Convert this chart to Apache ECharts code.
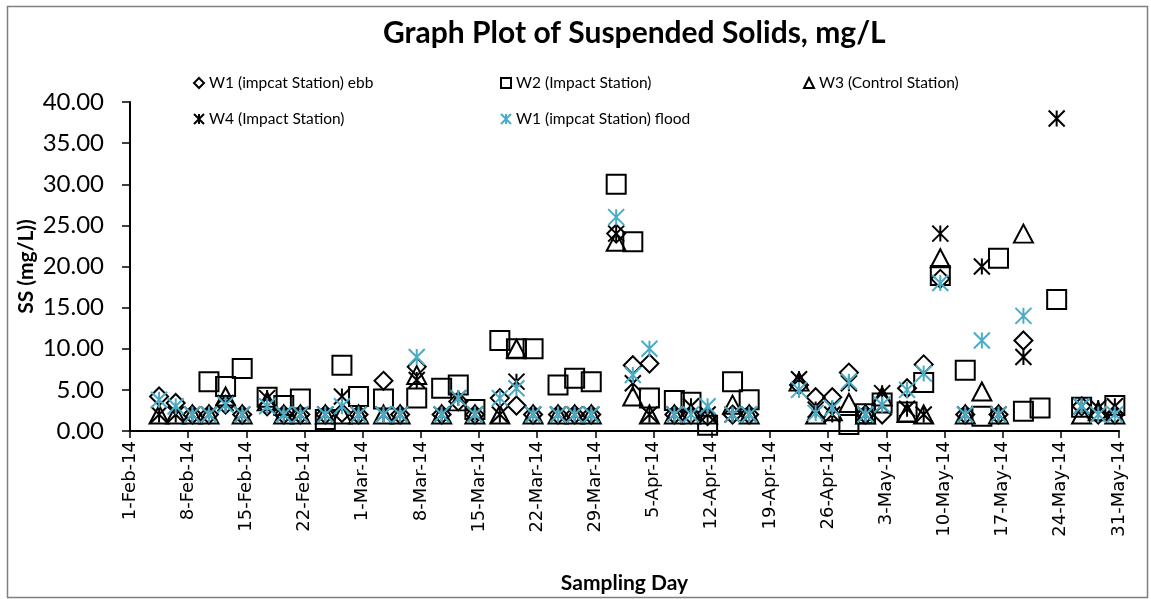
<!DOCTYPE html>
<html>
<head>
<meta charset="utf-8">
<script src="https://cdn.jsdelivr.net/npm/echarts@6/dist/echarts.min.js"></script>
<style>
  html, body { margin: 0; padding: 0; background: #fff; }
  #chart { width: 1151px; height: 599px; }
</style>
</head>
<body>
<div id="chart"></div>
<script>
/* Suspended solids scatter, Feb-May 2014. Values;
   points sitting on the 2.0 floor are mostly hidden under each other. */
const sampleDates = [
  "2014-02-04", "2014-02-06", "2014-02-08", "2014-02-10", "2014-02-12", "2014-02-14",
  "2014-02-17", "2014-02-19", "2014-02-21", "2014-02-24", "2014-02-26", "2014-02-28",
  "2014-03-03", "2014-03-05", "2014-03-07", "2014-03-10", "2014-03-12", "2014-03-14",
  "2014-03-17", "2014-03-19", "2014-03-21", "2014-03-24", "2014-03-26", "2014-03-28",
  "2014-03-31", "2014-04-02", "2014-04-04", "2014-04-07", "2014-04-09", "2014-04-11",
  "2014-04-14", "2014-04-16", "2014-04-22", "2014-04-24", "2014-04-26", "2014-04-28",
  "2014-04-30", "2014-05-02", "2014-05-05", "2014-05-07", "2014-05-09", "2014-05-12",
  "2014-05-14", "2014-05-16", "2014-05-19", "2014-05-21", "2014-05-23", "2014-05-26",
  "2014-05-28", "2014-05-30",
];
const w1Ebb = [
  4.2, 3.4, 2.0, 2.0, 3.2, 2.0, 3.0, 2.0, 2.0, 2.0, 2.2, 2.0,
  6.1, 2.0, 7.8, 2.0, 3.6, 2.0, 4.0, 3.1, 2.0, 2.0, 2.0, 2.0,
  24.0, 8.0, 8.2, 2.0, 2.0, 1.8, 2.0, 2.0, 5.6, 4.1, 4.1, 7.1,
  2.0, 2.0, 5.2, 8.1, 18.5, 2.0, null, 2.0, 11.0, null, null, 3.0,
  2.0, 2.0,
];
const w2 = [
  null, null, null, 6.0, 5.4, 7.6, 4.1, 3.1, 3.9, 1.4, 8.0, 4.2,
  3.9, null, 4.0, 5.2, 5.6, 2.6, 11.0, 10.0, 10.0, 5.6, 6.4, 6.0,
  30.0, 23.0, 4.0, 3.7, 3.5, 0.7, 6.0, 3.8, null, null, null, 0.8,
  2.1, 3.4, 2.3, 5.9, 18.9, 7.4, 1.8, 21.0, 2.4, 2.8, 16.0, 2.9,
  null, 3.1,
];
const w3 = [
  2.0, 2.0, 2.0, 2.0, 4.2, 2.0, 3.6, 2.0, 2.0, 2.0, 2.0, 2.0,
  2.0, 2.0, 6.8, 2.0, 3.6, 2.0, 2.0, 10.0, 2.0, 2.0, 2.0, 2.0,
  23.0, 4.2, 2.0, 2.0, 2.0, 2.0, 3.2, 2.0, 6.0, 2.0, 2.4, 3.4,
  2.0, 4.2, 2.2, 2.0, 21.0, 2.0, 4.8, 2.0, 24.0, null, null, 2.0,
  2.4, 2.0,
];
const w4 = [
  2.0, 2.0, 2.0, 2.0, 3.4, 2.0, 4.0, 2.0, 2.0, 2.0, 4.2, 2.0,
  2.0, 2.0, 6.2, 2.0, 4.0, 2.0, 2.0, 6.0, 2.0, 2.0, 2.0, 2.0,
  24.0, 5.8, 2.0, 2.0, 3.0, 2.0, 2.0, 2.0, 6.3, 2.6, 2.0, 5.8,
  2.0, 4.6, 2.7, 2.0, 24.0, 2.0, 20.0, 2.0, 9.0, null, 38.0, 3.0,
  2.8, 3.0,
];
const w1Flood = [
  3.8, 3.0, 2.0, 2.0, 3.2, 2.0, 3.0, 2.0, 2.0, 2.0, 3.0, 2.0,
  2.0, 2.0, 9.0, 2.0, 4.0, 2.0, 4.0, 5.2, 2.0, 2.0, 2.0, 2.0,
  26.0, 6.8, 10.0, 2.0, 2.0, 3.0, 2.0, 2.0, 5.0, 2.2, 2.8, 6.0,
  2.0, 3.2, 5.0, 7.0, 18.0, 2.0, 11.0, 2.0, 14.0, null, null, 3.0,
  2.0, 2.0,
];
const seriesNames = [
  "W1 (impcat Station) ebb", "W2 (Impact Station)", "W3 (Control Station)",
  "W4 (Impact Station)", "W1 (impcat Station) flood",
];
const yTicks = [0, 5, 10, 15, 20, 25, 30, 35, 40];

const MONTHS = ["Jan", "Feb", "Mar", "Apr", "May", "Jun"];
const START = Date.UTC(2014, 1, 1);
const dayOf = (s) => (Date.UTC(+s.slice(0, 4), +s.slice(5, 7) - 1, +s.slice(8, 10)) - START) / 86400000;
const xDays = sampleDates.map(dayOf);
// excel date axis puts each day's points half-way between ticks
const pts = (vals) => vals.map((v, i) => (v == null ? null : [xDays[i] + 0.5, v])).filter(Boolean);
const dayLabel = (d) => {
  const t = new Date(START + d * 86400000);
  return t.getUTCDate() + "-" + MONTHS[t.getUTCMonth()] + "-14";
};

const STAR = "path://M0,0L10,10M10,0L0,10M5,0L5,10";
const CYAN = "#4bacc6";
const FONT = "Lato";

const hollow = (c, w) => ({ color: "transparent", borderColor: c, borderWidth: w, opacity: 1 });
const series = [
  { name: seriesNames[0], data: pts(w1Ebb), symbol: "diamond", symbolSize: 18, itemStyle: hollow("#000", 2) },
  { name: seriesNames[1], data: pts(w2), symbol: "rect", symbolSize: 19, itemStyle: hollow("#000", 2) },
  { name: seriesNames[2], data: pts(w3), symbol: "triangle", symbolSize: [19, 18], itemStyle: hollow("#000", 2) },
  { name: seriesNames[3], data: pts(w4), symbol: STAR, symbolSize: 16, itemStyle: hollow("#000", 2) },
  { name: seriesNames[4], data: pts(w1Flood), symbol: STAR, symbolSize: 16, itemStyle: hollow(CYAN, 2) },
].map((s) => Object.assign({ type: "scatter", silent: true }, s));

// excel legend: two rows, three fixed columns
const legendPos = [[188, 70], [495, 70], [798, 70], [188, 106], [495, 106]];
const legends = seriesNames.map((n, i) => ({
  data: [n], left: legendPos[i][0], top: legendPos[i][1],
  itemWidth: 10, itemHeight: 10, selectedMode: false,
  textStyle: { fontFamily: FONT, fontSize: 15.5, color: "#000" },
}));

const chart = echarts.init(document.getElementById("chart"));
chart.setOption({
  animation: false,
  backgroundColor: "#fff",
  title: {
    text: "Graph Plot of Suspended Solids, mg/L", left: 378, top: 13,
    textStyle: { fontFamily: FONT, fontWeight: "bold", fontSize: 30, color: "#000" },
  },
  legend: legends,
  graphic: [{
    type: "rect", left: 5, top: 4, silent: true,
    shape: { width: 1140, height: 591 },
    style: { fill: "none", stroke: "#7f7f7f", lineWidth: 1.5 },
  }],
  grid: { left: 130, right: 32, top: 102, bottom: 164 },
  xAxis: {
    type: "value", min: 0, max: 119, interval: 7,
    name: "Sampling Day", nameLocation: "middle", nameGap: 142, nameMoveOverlap: false,
    nameTextStyle: { fontFamily: FONT, fontWeight: "bold", fontSize: 21, color: "#000" },
    axisLine: { lineStyle: { color: "#000", width: 2 } },
    axisTick: { show: true, length: 7, lineStyle: { color: "#000", width: 1.5 } },
    splitLine: { show: false },
    axisLabel: {
      rotate: 90, margin: 10, color: "#000", fontFamily: "DejaVu Sans", fontSize: 18,
      formatter: dayLabel, showMinLabel: true, showMaxLabel: true,
    },
  },
  yAxis: {
    type: "value", min: yTicks[0], max: yTicks[yTicks.length - 1], interval: 5,
    name: "SS (mg/L))", nameLocation: "middle", nameGap: 93, nameMoveOverlap: false,
    nameTextStyle: { fontFamily: FONT, fontWeight: "bold", fontSize: 21, color: "#000" },
    axisLine: { show: true, lineStyle: { color: "#000", width: 2 } },
    axisTick: { show: true, length: 8, lineStyle: { color: "#000", width: 1.5 } },
    splitLine: { show: false },
    axisLabel: { color: "#000", fontFamily: FONT, fontSize: 24, margin: 26, formatter: (v) => v.toFixed(2) },
  },
  series: series,
});
</script>
</body>
</html>
